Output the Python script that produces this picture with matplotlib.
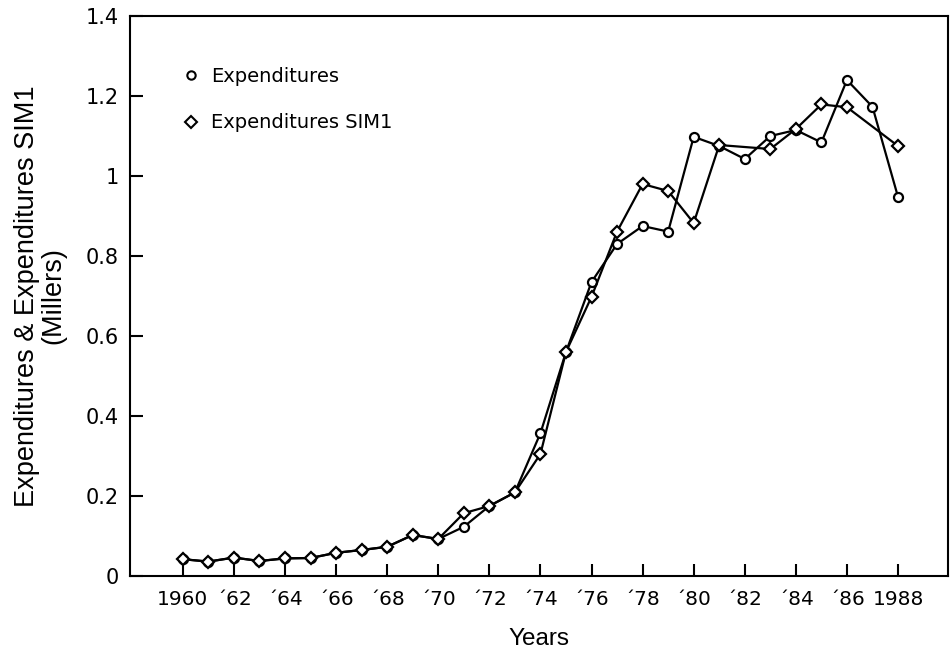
import numpy as np
import matplotlib
matplotlib.use("Agg")
import matplotlib.pyplot as plt
from matplotlib.lines import Line2D

# valores (milhares)
anos = list(range(1960, 1989))
gastos = [0.042, 0.036, 0.046, 0.0375, 0.044, 0.045, 0.058, 0.065, 0.073, 0.1025,
          0.0925, 0.123, 0.175, 0.209, 0.357, 0.56, 0.735, 0.83, 0.875, 0.861,
          1.098, 1.075, 1.0425, 1.10, 1.115, 1.084, 1.24, 1.173, 0.9475]

anos_sim = [1960, 1961, 1962, 1963, 1964, 1965, 1966, 1967, 1968, 1969, 1970, 1971,
            1972, 1973, 1974, 1975, 1976, 1977, 1978, 1979, 1980, 1981, 1983, 1984,
            1985, 1986, 1988]
gastos_sim = [0.042, 0.036, 0.046, 0.0375, 0.044, 0.045, 0.058, 0.065, 0.073, 0.1025,
              0.0925, 0.157, 0.175, 0.209, 0.305, 0.56, 0.698, 0.861, 0.98, 0.9625,
              0.8825, 1.0775, 1.0675, 1.1175, 1.179, 1.172, 1.075]

ticks_x = list(range(1960, 1989, 2))
rotulos_x = ["1960"] + ["\u00b4%02d" % (a % 100) for a in ticks_x[1:-1]] + ["1988"]
ticks_y = [0, 0.2, 0.4, 0.6, 0.8, 1, 1.2, 1.4]
rotulos_y = ["0", "0.2", "0.4", "0.6", "0.8", "1", "1.2", "1.4"]

fig = plt.figure(figsize=(9.5, 6.57), dpi=100)
ax = fig.add_axes([0.1368, 0.1233, 0.8612, 0.8523])

ax.plot(anos, gastos, color="black", lw=1.6, marker="o", ms=6.5,
        mfc="white", mec="black", mew=1.6, zorder=3)
ax.plot(anos_sim, gastos_sim, color="black", lw=1.6, marker="D", ms=6.5,
        mfc="white", mec="black", mew=1.6, zorder=4)

ax.set_xlim(1957.93, 1989.96)
ax.set_ylim(0, 1.4)
ax.set_xticks(ticks_x)
ax.set_xticklabels(rotulos_x, family="DejaVu Sans", fontsize=14.5)
ax.set_yticks(ticks_y)
ax.set_yticklabels(rotulos_y, family="DejaVu Sans", fontsize=15)
ax.tick_params(direction="in", length=9, width=1.5)
ax.tick_params(axis="x", pad=10)
ax.tick_params(axis="y", pad=8)

for s in ax.spines.values():
    s.set_linewidth(1.5)

ax.set_xlabel("Years", family="Liberation Sans", fontsize=17.5, labelpad=14)
ax.set_ylabel("Expenditures & Expenditures SIM1\n(Millers)", family="Liberation Sans",
              fontsize=19.5, labelpad=14, linespacing=1.0)

handles = [Line2D([], [], ls="none", marker="o", ms=6, mfc="white", mec="black", mew=1.5),
           Line2D([], [], ls="none", marker="D", ms=6, mfc="white", mec="black", mew=1.5)]
ax.legend(handles, ["Expenditures", "Expenditures SIM1"], loc="upper left",
          bbox_to_anchor=(0.046, 0.94), frameon=False, handlelength=0.6,
          handletextpad=0.75, labelspacing=1.4, prop={"size": 14})

fig.savefig("out.png", dpi=100)
